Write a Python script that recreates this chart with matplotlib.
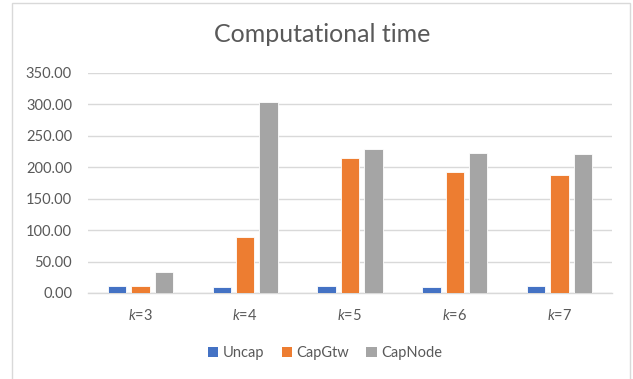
import matplotlib
matplotlib.use("Agg")
import matplotlib.pyplot as plt
import numpy as np
from matplotlib.patches import Rectangle, Patch

plt.rcParams['font.family'] = ['Lato', 'DejaVu Sans']
plt.rcParams['mathtext.fontset'] = 'custom'
plt.rcParams['mathtext.it'] = 'Lato:italic'
plt.rcParams['mathtext.rm'] = 'Lato'

categories = ['$k$=3', '$k$=4', '$k$=5', '$k$=6', '$k$=7']
series_names = ['Uncap', 'CapGtw', 'CapNode']
uncap = [10.5, 9.0, 11.0, 9.5, 10.5]
capgtw = [10.5, 88.5, 214.0, 192.0, 188.0]
capnode = [33.0, 303.5, 228.5, 222.5, 220.5]
colors = ['#4472C4', '#ED7D31', '#A5A5A5']

W, H = 633, 379
fig = plt.figure(figsize=(W / 100, H / 100), dpi=100)
ax = fig.add_axes([88 / W, 1 - 293 / H, (612 - 88) / W, (293 - 73) / H])

x = np.arange(len(categories))
pitch = 0.223
bw = 0.175
for i, (vals, c, name) in enumerate(zip([uncap, capgtw, capnode], colors, series_names)):
    ax.bar(x + (i - 1) * pitch, vals, width=bw, color=c, label=name, zorder=3,
           edgecolor='white', linewidth=0.6)

ax.set_xlim(-0.5, len(categories) - 0.5)
ax.set_ylim(0, 350)
ax.set_yticks(np.arange(0, 351, 50))
ax.set_yticklabels([f"{v:.2f}" for v in np.arange(0, 351, 50)])
ax.set_xticks(x)
ax.set_xticklabels(categories)
ax.tick_params(axis='both', length=0, labelsize=10.5, colors='#595959')
ax.tick_params(axis='y', pad=11.5)
ax.tick_params(axis='x', pad=11)
ax.grid(axis='y', color='#D9D9D9', linewidth=1.0, zorder=0)
for s in ['top', 'right', 'left']:
    ax.spines[s].set_visible(False)
ax.spines['bottom'].set_color('#D9D9D9')
ax.spines['bottom'].set_linewidth(1.0)

fig.text(322 / W, 1 - 35 / H, 'Computational time', ha='center', va='center',
         fontsize=18, color='#595959')

handles = [Patch(facecolor=c, label=n) for c, n in zip(colors, series_names)]
fig.legend(handles=handles, loc='center', bbox_to_anchor=(325 / W, 1 - 353 / H),
           ncol=3, frameon=False, fontsize=10.5, handlelength=0.7, handleheight=0.7,
           handletextpad=0.3, columnspacing=1.2, labelcolor='#595959')

fig.patches.append(Rectangle((12 / W, -0.1), (630 - 12) / W, 1.1 - 3 / H,
                             transform=fig.transFigure, fill=False,
                             edgecolor='#D9D9D9', linewidth=1.0))

fig.savefig('out.png', dpi=100)
